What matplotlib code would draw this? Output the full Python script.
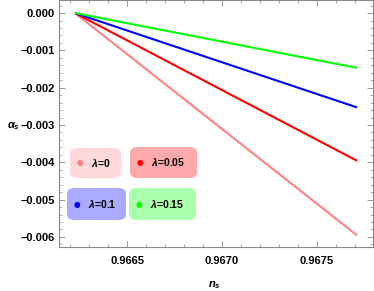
import matplotlib as mpl
mpl.use('Agg')
import matplotlib.pyplot as plt
from matplotlib.patches import FancyBboxPatch
from matplotlib.ticker import MultipleLocator
import numpy as np

# data
ns_range = [0.966226, 0.967711]
lambdas = ['0', '0.05', '0.1', '0.15']
alpha_end = [-0.00596, -0.00396, -0.00253, -0.00147]
line_colors = ['#ff8080', '#ff0000', '#0000ff', '#00ff00']
box_colors = ['#ffd9d9', '#ffaaaa', '#aaaaff', '#aaffaa']

plt.rcParams['font.family'] = ['Liberation Sans', 'DejaVu Sans']
plt.rcParams['mathtext.fontset'] = 'custom'
plt.rcParams['mathtext.it'] = 'Liberation Sans:italic:bold'
plt.rcParams['mathtext.rm'] = 'Liberation Sans:bold'

fig = plt.figure(figsize=(3.74, 2.91), dpi=100)
ax = fig.add_axes([59/374, 1 - 247/291, (372.7 - 59)/374, 247/291])

for a, c in zip(alpha_end, line_colors):
    ax.plot(ns_range, [0.0, a], color=c, lw=1.5, solid_capstyle='butt')

ax.set_xlim(0.966142, 0.967793)
ax.set_ylim(-0.00627, 0.00035)

ax.xaxis.set_major_locator(MultipleLocator(0.0005))
ax.xaxis.set_minor_locator(MultipleLocator(0.0001))
ax.yaxis.set_major_locator(MultipleLocator(0.001))
ax.yaxis.set_minor_locator(MultipleLocator(0.0002))
ax.xaxis.set_major_formatter(mpl.ticker.FuncFormatter(lambda v, p: '%.4f' % v))
ax.yaxis.set_major_formatter(mpl.ticker.FuncFormatter(
    lambda v, p: ('%.3f' % v).replace('-', '\u2013') if abs(v) > 1e-9 else '0.000'))

ax.tick_params(which='both', direction='in', top=True, right=True, color='#888888')
ax.tick_params(which='major', length=4, width=0.6)
ax.tick_params(which='minor', length=2, width=0.5)
ax.tick_params(axis='x', labelsize=8, pad=6.5)
ax.tick_params(axis='y', labelsize=8, pad=3)
for lab in ax.get_xticklabels() + ax.get_yticklabels():
    lab.set_fontweight('bold')
for s in ax.spines.values():
    s.set_color('#888888')
    s.set_linewidth(0.8)

fig.text(13/374, 1 - 126/291, r'$\alpha_s$', ha='center', va='center', fontsize=8)
fig.text(214/374, 1 - 285/291, r'$n_s$', ha='center', va='center', fontsize=8)

# legend boxes, figure pixel coordinates (x0, y0, x1, y1)
boxes = [(70, 148, 121, 178), (130, 147, 197, 178), (67, 188, 126, 220), (129, 188, 196, 220)]
for (x0, y0, x1, y1), lam, c, bc in zip(boxes, lambdas, line_colors, box_colors):
    p = FancyBboxPatch((x0/374, 1 - y1/291), (x1 - x0)/374, (y1 - y0)/291,
                       boxstyle='round,pad=0,rounding_size=0.02',
                       transform=fig.transFigure, fc=bc, ec='none', zorder=5)
    fig.add_artist(p)
    ym = 1 - (y0 + y1)/2/291
    fig.text((x0 + 10)/374, ym, '\u25cf', color=c, fontsize=5.5, ha='center', va='center',
             family='DejaVu Sans', zorder=6)
    fig.text((x0 + 21)/374, ym, r'$\lambda$' + '=' + lam, fontsize=7.5, fontweight='bold',
             ha='left', va='center', zorder=6)

plt.savefig('out.png', dpi=100)
